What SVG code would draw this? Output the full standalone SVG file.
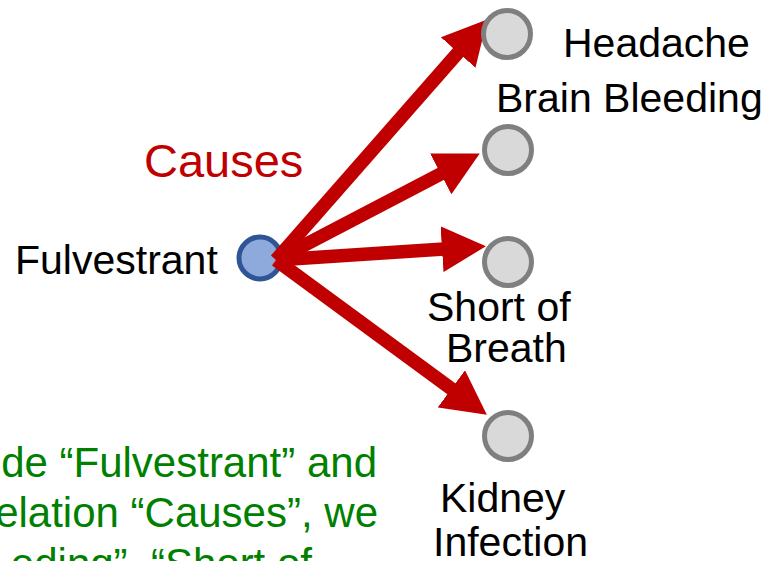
<svg xmlns="http://www.w3.org/2000/svg" width="770" height="561" viewBox="0 0 770 561">
<style>
  text { font-family: "Liberation Sans", Arial, sans-serif; }
  .lbl { font-size: 41px; fill: #000000; }
  .rel { font-size: 47px; fill: #C00000; }
  .note { font-size: 42px; fill: #008000; }
  .grey { fill: #D9D9D9; stroke: #7F7F7F; stroke-width: 5; }
  .blue { fill: #8EA9DB; stroke: #2F5597; stroke-width: 5; }
  .edge { stroke: #C00000; stroke-width: 13.5; fill: none; marker-end: url(#head); }
</style>
<defs>
  <marker id="head" viewBox="0 0 44 46" markerWidth="44" markerHeight="46" markerUnits="userSpaceOnUse" refX="2" refY="23" orient="auto">
    <path d="M0,0 L44,23 L0,46 z" fill="#C00000"/>
  </marker>
</defs>
<rect width="770" height="561" fill="#FFFFFF"/>

<g id="node-fulvestrant">
  <circle class="blue" cx="260" cy="258" r="21"/>
  <text class="lbl" x="15" y="274">Fulvestrant</text>
</g>

<g id="connectors">
  <line class="edge" x1="276" y1="260" x2="459.5" y2="51"/>
  <line class="edge" x1="276" y1="260" x2="442.5" y2="173"/>
  <line class="edge" x1="276" y1="260" x2="444" y2="249"/>
  <line class="edge" x1="276" y1="260" x2="453" y2="390"/>
</g>

<g id="label-causes">
  <text class="rel" x="144" y="177">Causes</text>
</g>

<g id="node-headache">
  <circle class="grey" cx="507" cy="34" r="23.5"/>
  <text class="lbl" x="563" y="57">Headache</text>
</g>

<g id="node-brain-bleeding">
  <circle class="grey" cx="508" cy="150" r="23.5"/>
  <text class="lbl" x="496" y="112">Brain Bleeding</text>
</g>

<g id="node-short-of-breath">
  <circle class="grey" cx="508" cy="262" r="23.5"/>
  <text class="lbl" x="427" y="321">Short of</text>
  <text class="lbl" x="446" y="362">Breath</text>
</g>

<g id="node-kidney-infection">
  <circle class="grey" cx="508" cy="436" r="23.5"/>
  <text class="lbl" x="440" y="512">Kidney</text>
  <text class="lbl" x="433" y="556">Infection</text>
</g>

<g id="note">
  <text class="note" x="377" y="477" text-anchor="end">de “Fulvestrant” and</text>
  <text class="note" x="378" y="527" text-anchor="end">elation “Causes”, we</text>
  <text class="note" x="312" y="578" text-anchor="end">eding”, “Short of</text>
</g>
</svg>
